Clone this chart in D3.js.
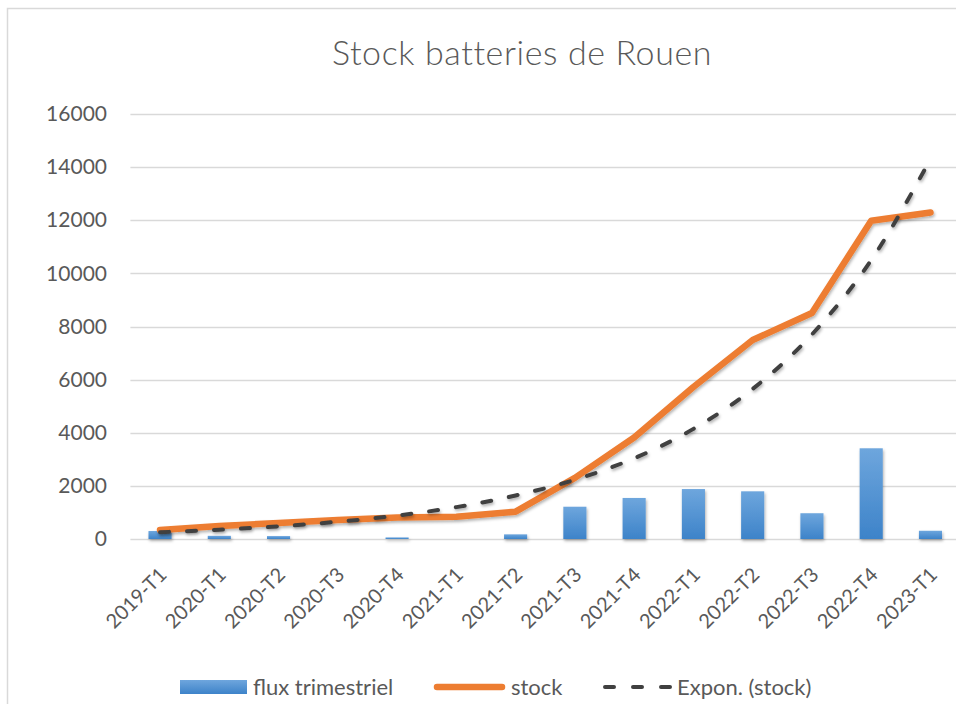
<!DOCTYPE html>
<html>
<head>
<meta charset="utf-8">
<script src="https://cdn.jsdelivr.net/npm/d3@7"></script>
<style>
    html, body { margin: 0; padding: 0; background: #fff; }
    svg { display: block; font-family: Lato, "Open Sans", sans-serif; }
</style>
</head>
<body>
<svg class="main" width="956" height="704"></svg>
<script>
// chart data
var quarters = ["2019-T1", "2020-T1", "2020-T2", "2020-T3", "2020-T4", "2021-T1", "2021-T2",
    "2021-T3", "2021-T4", "2022-T1", "2022-T2", "2022-T3", "2022-T4", "2023-T1"];
var flux = [300, 120, 110, 0, 60, 0, 175, 1215, 1545, 1880, 1795, 970, 3415, 310];
var stock = [340, 490, 600, 715, 810, 840, 1030, 2300, 3820, 5720, 7490, 8510, 11980, 12290];
var trend = [255, 350, 475, 650, 880, 1200, 1640, 2230, 3040, 4145, 5650, 7700, 10500, 14300];
var yTicks = [0, 2000, 4000, 6000, 8000, 10000, 12000, 14000, 16000];

var svg = d3.select(".main"),
    textColor = "#595959",
    gridColor = "#d9d9d9",
    plot = {
        left: 130.4,
        right: 960.1,
        top: 114,
        bottom: 539
    };

var x = d3.scaleBand()
    .domain(quarters)
    .range([plot.left, plot.right])
    .paddingInner(0.61)
    .paddingOuter(0.305);

var y = d3.scaleLinear()
    .domain([0, 16000])
    .range([plot.bottom, plot.top]);

function cx(d) {
    return x(d) + x.bandwidth() / 2;
}

/**
 * Defs: bar gradient and soft shadow
 */
var defs = svg.append("defs");

var grad = defs.append("linearGradient")
    .attr("id", "barGrad")
    .attr("x1", 0).attr("y1", 0)
    .attr("x2", 0).attr("y2", 1);
grad.append("stop").attr("offset", "0%").attr("stop-color", "#6ea6dd");
grad.append("stop").attr("offset", "100%").attr("stop-color", "#3d83c9");

var shadow = defs.append("filter")
    .attr("id", "shadow")
    .attr("x", "-10%").attr("y", "-10%")
    .attr("width", "120%").attr("height", "130%");
shadow.append("feDropShadow")
    .attr("dx", 1)
    .attr("dy", 2)
    .attr("stdDeviation", 1.6)
    .attr("flood-color", "#000")
    .attr("flood-opacity", 0.3);

// chart frame
svg.append("rect")
    .attr("x", 7.5)
    .attr("y", 8.5)
    .attr("width", 1000)
    .attr("height", 720)
    .attr("fill", "none")
    .attr("stroke", gridColor)
    .attr("stroke-width", 1.5);

// title
svg.append("text")
    .attr("x", 522)
    .attr("y", 65)
    .attr("text-anchor", "middle")
    .attr("font-size", 34)
    .attr("font-weight", 300)
    .attr("letter-spacing", 0.6)
    .attr("fill", textColor)
    .text("Stock batteries de Rouen");

/**
 * Grid and axes
 */
svg.append("g")
    .selectAll("line")
    .data(yTicks)
    .enter()
    .append("line")
    .attr("x1", plot.left)
    .attr("x2", plot.right)
    .attr("y1", function(d) { return Math.round(y(d)) + 0.5; })
    .attr("y2", function(d) { return Math.round(y(d)) + 0.5; })
    .attr("stroke", gridColor)
    .attr("stroke-width", 1.3);

var yAxis = svg.append("g")
    .attr("transform", "translate(107,0)")
    .call(d3.axisLeft(y).tickValues(yTicks).tickSize(0).tickPadding(0).tickFormat(d3.format("d")));

yAxis.select(".domain").remove();
yAxis.selectAll("text")
    .attr("font-family", "Lato, 'Open Sans', sans-serif")
    .attr("font-size", 21)
    .attr("fill", textColor);

svg.append("g")
    .selectAll("text")
    .data(quarters)
    .enter()
    .append("text")
    .attr("transform", function(d) {
        return "translate(" + (cx(d) + 8) + ",576) rotate(-45)";
    })
    .attr("text-anchor", "end")
    .attr("font-size", 20)
    .attr("fill", textColor)
    .text(function(d) { return d; });

/**
 * Bars: flux trimestriel
 */
svg.append("g")
    .attr("filter", "url(#shadow)")
    .selectAll("rect")
    .data(flux)
    .enter()
    .append("rect")
    .attr("x", function(d, i) { return x(quarters[i]); })
    .attr("y", function(d) { return y(d); })
    .attr("width", x.bandwidth())
    .attr("height", function(d) { return y(0) - y(d); })
    .attr("fill", "url(#barGrad)");

/**
 * Lines: stock and exponential trend
 */
var stockLine = d3.line()
    .x(function(d, i) { return cx(quarters[i]); })
    .y(function(d) { return y(d); });

var trendLine = d3.line()
    .x(function(d, i) { return cx(quarters[i]); })
    .y(function(d) { return y(d); })
    .curve(d3.curveMonotoneX);

svg.append("path")
    .datum(stock)
    .attr("d", stockLine)
    .attr("fill", "none")
    .attr("stroke", "#ed7d31")
    .attr("stroke-width", 6.5)
    .attr("stroke-linejoin", "round")
    .attr("stroke-linecap", "round")
    .attr("filter", "url(#shadow)");

svg.append("path")
    .datum(trend)
    .attr("d", trendLine)
    .attr("fill", "none")
    .attr("stroke", "#404040")
    .attr("stroke-width", 4)
    .attr("stroke-dasharray", "9,18")
    .attr("stroke-linecap", "round")
    .attr("filter", "url(#shadow)");

/**
 * Legend
 */
var legend = svg.append("g")
    .attr("font-size", 22)
    .attr("fill", textColor);

legend.append("rect")
    .attr("x", 180)
    .attr("y", 680)
    .attr("width", 67)
    .attr("height", 14)
    .attr("fill", "url(#barGrad)");

legend.append("text")
    .attr("x", 253)
    .attr("y", 695)
    .text("flux trimestriel");

legend.append("line")
    .attr("x1", 437).attr("x2", 502)
    .attr("y1", 687).attr("y2", 687)
    .attr("stroke", "#ed7d31")
    .attr("stroke-width", 6.5)
    .attr("stroke-linecap", "round");

legend.append("text")
    .attr("x", 511)
    .attr("y", 695)
    .text("stock");

legend.append("line")
    .attr("x1", 605).attr("x2", 670)
    .attr("y1", 687).attr("y2", 687)
    .attr("stroke", "#404040")
    .attr("stroke-width", 4)
    .attr("stroke-dasharray", "9,19")
    .attr("stroke-linecap", "round");

legend.append("text")
    .attr("x", 677)
    .attr("y", 695)
    .text("Expon. (stock)");
</script>
</body>
</html>
